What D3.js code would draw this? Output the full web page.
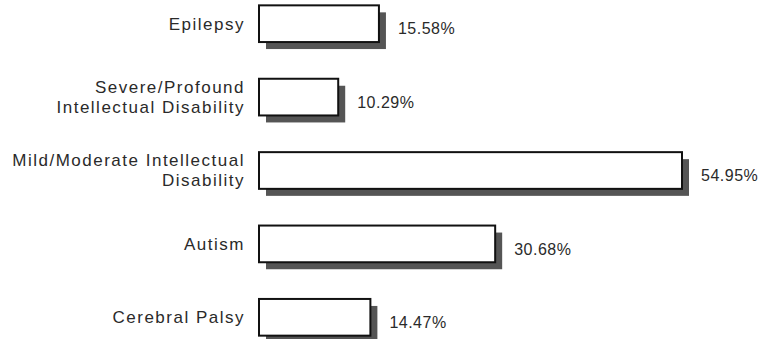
<!DOCTYPE html>
<html>
<head>
<meta charset="utf-8">
<script src="https://cdn.jsdelivr.net/npm/d3@7"></script>
<style>
  body { margin: 0; background: #fff; }
  text { font-family: "Liberation Sans", Arial, sans-serif; fill: #2a2a2a; }
</style>
</head>
<body>
<div id="chart"></div>
<script>
// Chart data
const categories = [
  ["Epilepsy"],
  ["Severe/Profound", "Intellectual Disability"],
  ["Mild/Moderate Intellectual", "Disability"],
  ["Autism"],
  ["Cerebral Palsy"]
];
const values = [15.58, 10.29, 54.95, 30.68, 14.47];
const valueLabels = ["15.58%", "10.29%", "54.95%", "30.68%", "14.47%"];

const svgWidth = 783, svgHeight = 339;
const barLeft = 259;
const shadowOff = 7;

const svg = d3.select('#chart').append('svg')
  .attr('width', svgWidth)
  .attr('height', svgHeight);

// Scales
const xScale = d3.scaleLinear().domain([0, 54.95]).range([barLeft, 682]);
const yScale = d3.scaleBand()
  .domain(d3.range(values.length))
  .range([-13, 354])
  .paddingInner(0.5)
  .paddingOuter(0.25);

const rows = svg.selectAll('.row')
  .data(values)
  .enter().append('g')
    .attr('class', 'row');

// Drop shadow
rows.append('rect')
  .attr('x', xScale(0) + shadowOff)
  .attr('y', (d, i) => yScale(i) + shadowOff)
  .attr('width', d => xScale(d) - xScale(0))
  .attr('height', yScale.bandwidth())
  .style('fill', '#555');

// Bar
rows.append('rect')
  .attr('x', xScale(0))
  .attr('y', (d, i) => yScale(i))
  .attr('width', d => xScale(d) - xScale(0))
  .attr('height', yScale.bandwidth())
  .style('fill', '#fff')
  .style('stroke', '#111')
  .style('stroke-width', 2);

// Value labels
rows.append('text')
  .attr('x', d => xScale(d) + 19)
  .attr('y', (d, i) => yScale(i) + yScale.bandwidth() / 2 + 5)
  .attr('dy', '0.35em')
  .style('font-size', '16px')
  .style('letter-spacing', '0.5px')
  .text((d, i) => valueLabels[i]);

// Category labels
rows.append('text')
  .attr('text-anchor', 'end')
  .attr('x', 245)
  .attr('y', (d, i) => yScale(i) + yScale.bandwidth() / 2)
  .style('font-size', '17px')
  .style('letter-spacing', '1.5px')
  .each(function(d, i) {
    const lines = categories[i];
    const lh = 20;
    lines.forEach((t, j) => {
      d3.select(this).append('tspan')
        .attr('x', 245)
        .attr('dy', j === 0 ? (0.35 * 17 - (lines.length - 1) * lh / 2) + 'px' : lh + 'px')
        .text(t);
    });
  });
</script>
</body>
</html>
